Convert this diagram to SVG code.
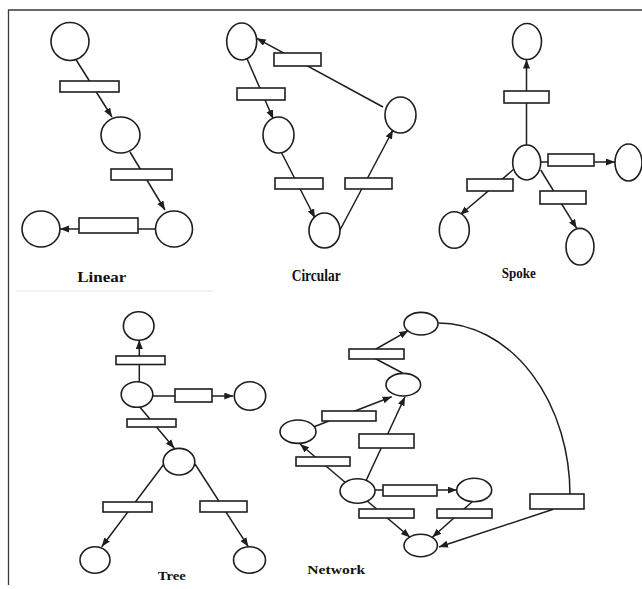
<svg xmlns="http://www.w3.org/2000/svg" width="642" height="589" viewBox="0 0 642 589">
<style>
.n{fill:#fff;stroke:#1e1e1e;stroke-width:1.6}
.c{fill:none;stroke:#1e1e1e;stroke-width:1.5}
.a{marker-end:url(#ah)}
.t{font-family:"Liberation Serif","Times New Roman",serif;font-weight:bold;fill:#111}
.f{stroke:#3a3a3a;stroke-width:1.3;fill:none}
</style>
<defs>
<marker id="ah" markerUnits="userSpaceOnUse" markerWidth="10" markerHeight="8" refX="9" refY="3.5" orient="auto">
<path d="M0,0 L9,3.5 L0,7 z" fill="#1e1e1e"/>
</marker>
</defs>
<rect width="642" height="589" fill="#fff"/>
<g id="frame">
<path class="f" d="M8.5,585 L8.5,10 L642,10"/>
<path d="M16,291 L213,291" stroke="#ececec" stroke-width="1.5"/>
</g>
<g id="connectors">
<path class="c a" d="M75,58 L112,117"/>
<path class="c a" d="M130,152 L165,210"/>
<path class="c a" d="M155.5,229 L60,229"/>
<path class="c a" d="M383,107 L256.7,38.3"/>
<path class="c a" d="M246.7,58 L273.3,119"/>
<path class="c a" d="M281.7,153 L315,218"/>
<path class="c a" d="M340,230 L393,130"/>
<path class="c a" d="M526.5,145 L526.5,59.5"/>
<path class="c a" d="M540.7,162 L615,162"/>
<path class="c a" d="M514,169 L460,215"/>
<path class="c a" d="M540.7,170 L576.7,228.3"/>
<path class="c a" d="M139.3,381.7 L139.3,340"/>
<path class="c a" d="M152.7,396 L233.3,396"/>
<path class="c a" d="M140,407.3 L174.3,448.3"/>
<path class="c a" d="M164,464 L101.7,546.7"/>
<path class="c a" d="M195,464 L248.3,546.7"/>
<path class="c a" d="M402.5,373 L376,359 L376,349 L408.3,330.7"/>
<path class="c a" d="M314,426.7 L391.7,396.7"/>
<path class="c a" d="M366,480.7 L405,396.7"/>
<path class="c a" d="M348.3,485 L300,444"/>
<path class="c a" d="M375,490 L456.7,490"/>
<path class="c a" d="M366,500 L410,537.3"/>
<path class="c a" d="M473.3,500.7 L432.3,537.3"/>
<path class="c" d="M438.3,323 A132,172 0 0 1 570,496"/>
<path class="c a" d="M553.3,509.3 L439,547"/>
</g>
<g id="linear">
<g id="lin-p1"><ellipse class="n" cx="70" cy="41.5" rx="19" ry="19"/></g>
<g id="lin-t1"><rect class="n" x="60" y="81" width="59" height="11"/></g>
<g id="lin-p2"><ellipse class="n" cx="120.5" cy="135" rx="19.5" ry="18"/></g>
<g id="lin-t2"><rect class="n" x="111" y="169" width="61" height="11"/></g>
<g id="lin-p3"><ellipse class="n" cx="174" cy="229" rx="18.5" ry="18"/></g>
<g id="lin-t3"><rect class="n" x="79" y="218" width="59" height="15"/></g>
<g id="lin-p4"><ellipse class="n" cx="41" cy="229" rx="19" ry="18"/></g>
<text class="t" x="77.3" y="281.5" font-size="15" textLength="49" lengthAdjust="spacingAndGlyphs">Linear</text>
</g>
<g id="circular">
<g id="cir-pA"><ellipse class="n" cx="241.7" cy="41.5" rx="15" ry="18.5"/></g>
<g id="cir-t1"><rect class="n" x="274" y="53" width="47" height="13"/></g>
<g id="cir-t2"><rect class="n" x="237" y="88" width="48" height="12"/></g>
<g id="cir-pB"><ellipse class="n" cx="278.5" cy="135" rx="15.5" ry="18"/></g>
<g id="cir-pR"><ellipse class="n" cx="400.5" cy="115" rx="15.5" ry="18"/></g>
<g id="cir-t3"><rect class="n" x="275" y="178" width="48" height="11"/></g>
<g id="cir-t4"><rect class="n" x="345" y="178" width="47" height="11"/></g>
<g id="cir-pC"><ellipse class="n" cx="324.5" cy="230.5" rx="15.5" ry="17.5"/></g>
<text class="t" x="291.7" y="281.3" font-size="17" textLength="49" lengthAdjust="spacingAndGlyphs">Circular</text>
</g>
<g id="spoke">
<g id="spk-top"><ellipse class="n" cx="527" cy="41.5" rx="14.5" ry="18"/></g>
<g id="spk-t1"><rect class="n" x="504" y="91" width="45" height="12"/></g>
<g id="spk-hub"><ellipse class="n" cx="526.7" cy="162.5" rx="14" ry="17.5"/></g>
<g id="spk-t2"><rect class="n" x="548" y="154" width="46" height="12"/></g>
<g id="spk-right"><ellipse class="n" cx="628.5" cy="162.5" rx="13.5" ry="18.5"/></g>
<g id="spk-t3"><rect class="n" x="467" y="179" width="46" height="12"/></g>
<g id="spk-t4"><rect class="n" x="540" y="191" width="46" height="13"/></g>
<g id="spk-ll"><ellipse class="n" cx="454.3" cy="230" rx="15" ry="18.3"/></g>
<g id="spk-lr"><ellipse class="n" cx="580" cy="246.7" rx="14" ry="18.3"/></g>
<text class="t" x="501.7" y="278" font-size="14.5" textLength="34" lengthAdjust="spacingAndGlyphs">Spoke</text>
</g>
<g id="tree">
<g id="tr-p1"><ellipse class="n" cx="138.7" cy="326" rx="15.3" ry="14.2"/></g>
<g id="tr-t1"><rect class="n" x="116" y="356" width="49" height="8.5"/></g>
<g id="tr-p2"><ellipse class="n" cx="137" cy="394.5" rx="15.8" ry="12.8"/></g>
<g id="tr-t2"><rect class="n" x="175" y="389" width="37" height="13"/></g>
<g id="tr-p3"><ellipse class="n" cx="250" cy="396" rx="15.7" ry="14.2"/></g>
<g id="tr-t3"><rect class="n" x="127" y="419" width="49" height="8"/></g>
<g id="tr-p4"><ellipse class="n" cx="179" cy="461.7" rx="15.8" ry="13.3"/></g>
<g id="tr-t4"><rect class="n" x="103" y="502" width="49" height="10"/></g>
<g id="tr-t5"><rect class="n" x="200" y="501" width="47" height="11"/></g>
<g id="tr-p5"><ellipse class="n" cx="95" cy="560" rx="15" ry="13.3"/></g>
<g id="tr-p6"><ellipse class="n" cx="249.5" cy="560" rx="16" ry="13.3"/></g>
<text class="t" x="157.7" y="579.5" font-size="13" textLength="28" lengthAdjust="spacingAndGlyphs">Tree</text>
</g>
<g id="network">
<g id="nw-p1"><ellipse class="n" cx="421" cy="323.7" rx="17" ry="11.3"/></g>
<g id="nw-t1"><rect class="n" x="349" y="349" width="55" height="10"/></g>
<g id="nw-p2"><ellipse class="n" cx="403.3" cy="384.7" rx="17.3" ry="11.3"/></g>
<g id="nw-t2"><rect class="n" x="322" y="411" width="54" height="10"/></g>
<g id="nw-pL"><ellipse class="n" cx="298" cy="431.7" rx="18" ry="11.7"/></g>
<g id="nw-t3"><rect class="n" x="359" y="434" width="55" height="14"/></g>
<g id="nw-t4"><rect class="n" x="296" y="457" width="54" height="9"/></g>
<g id="nw-pC"><ellipse class="n" cx="357.5" cy="491" rx="17.5" ry="12.2"/></g>
<g id="nw-t5"><rect class="n" x="383" y="485" width="54" height="11"/></g>
<g id="nw-pD"><ellipse class="n" cx="474.2" cy="490" rx="17.5" ry="11.7"/></g>
<g id="nw-t6"><rect class="n" x="359" y="509" width="55" height="9"/></g>
<g id="nw-t7"><rect class="n" x="437" y="509" width="55" height="9"/></g>
<g id="nw-t8"><rect class="n" x="530" y="494" width="54" height="15"/></g>
<g id="nw-pB"><ellipse class="n" cx="420.7" cy="545.5" rx="16.7" ry="11.2"/></g>
<text class="t" x="307.3" y="573.5" font-size="11.5" textLength="58" lengthAdjust="spacingAndGlyphs">Network</text>
</g>
</svg>
